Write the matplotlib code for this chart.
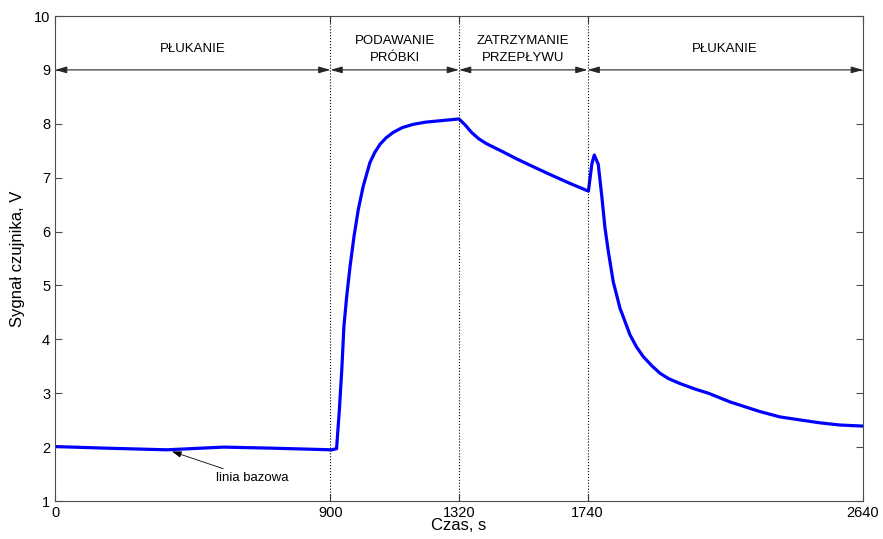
import matplotlib.pyplot as plt
import numpy as np

plt.rcParams['font.family'] = ['Liberation Sans', 'DejaVu Sans']

# Odczyty sygnalu czujnika w funkcji czasu
czas = [0, 169, 365, 550, 712, 904, 920, 929, 937, 944, 953, 964, 977, 991,
        1007, 1029, 1045, 1062, 1082, 1105, 1135, 1171, 1210, 1247, 1320,
        1340, 1361, 1385, 1410, 1460, 1508, 1560, 1617, 1680, 1743, 1754,
        1762, 1775, 1786, 1797, 1808, 1824, 1846, 1879, 1900, 1922, 1950,
        1977, 2005, 2042, 2090, 2135, 2205, 2303, 2369, 2440, 2500, 2565,
        2640]
sygnal = [2.01, 1.98, 1.95, 2.00, 1.98, 1.95, 1.97, 2.68, 3.43, 4.24, 4.79,
          5.35, 5.91, 6.41, 6.84, 7.28, 7.47, 7.62, 7.74, 7.84, 7.93, 7.99,
          8.03, 8.05, 8.09, 7.98, 7.84, 7.72, 7.63, 7.49, 7.35, 7.21, 7.06,
          6.90, 6.75, 7.25, 7.42, 7.25, 6.69, 6.07, 5.63, 5.07, 4.58, 4.08,
          3.86, 3.68, 3.51, 3.37, 3.27, 3.18, 3.08, 3.00, 2.84, 2.66, 2.56,
          2.50, 2.45, 2.41, 2.39]

granice = [0, 900, 1320, 1740, 2640]
etapy = ['PŁUKANIE', 'PODAWANIE\nPRÓBKI', 'ZATRZYMANIE\nPRZEPŁYWU', 'PŁUKANIE']
x_ticks = [0, 900, 1320, 1740, 2640]
y_ticks = list(range(1, 11))

fig = plt.figure(figsize=(8.83, 5.39), dpi=100)
ax = fig.add_axes([0.0623, 0.0705, 0.915, 0.8998])

ax.plot(czas, sygnal, color='#0000ff', lw=2.3, solid_joinstyle='round')

for g in granice[1:-1]:
    ax.axvline(g, color='k', ls=':', lw=0.8)

# strzalki etapow pomiaru
for a, b, txt in zip(granice[:-1], granice[1:], etapy):
    ax.annotate('', xy=(b, 9), xytext=(a, 9),
                arrowprops=dict(arrowstyle='<|-|>,head_length=0.7,head_width=0.2',
                                color='0.15', lw=0.8, shrinkA=0, shrinkB=0))
    ax.text((a + b) / 2, 9.38, txt, ha='center', va='center', fontsize=9.5,
            linespacing=1.5)

ax.annotate('linia bazowa', xy=(382, 1.92), xytext=(525, 1.42),
            fontsize=9.5, va='center', ha='left',
            arrowprops=dict(arrowstyle='-|>,head_length=0.6,head_width=0.2',
                            color='k', lw=0.6, shrinkA=2, shrinkB=0))

ax.set_xlim(0, 2640)
ax.set_ylim(1, 10)
ax.set_xticks(x_ticks)
ax.set_yticks(y_ticks)
ax.tick_params(direction='in', top=True, right=True, length=5, labelsize=10.5,
               width=0.8, color='0.3')
ax.set_xlabel('Czas, s', fontsize=12, labelpad=-1)
ax.set_ylabel('Sygnał czujnika, V', fontsize=12, labelpad=6)
for s in ax.spines.values():
    s.set_linewidth(0.8)
    s.set_color('0.3')

fig.savefig('out.png', dpi=100)
